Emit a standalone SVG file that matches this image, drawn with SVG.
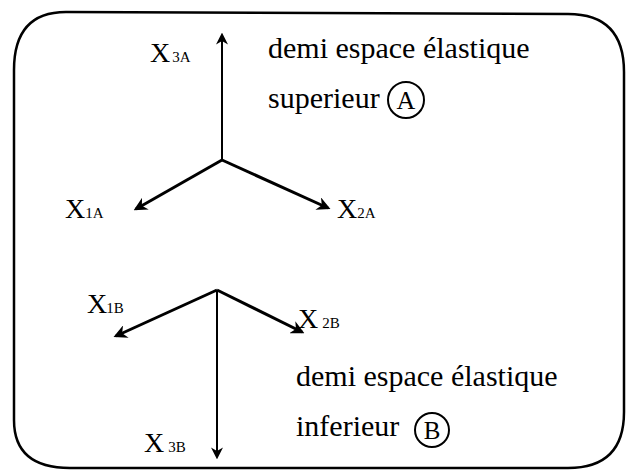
<svg xmlns="http://www.w3.org/2000/svg" width="628" height="472" viewBox="0 0 628 472">
<style>
.t{font-family:"Liberation Serif","Times New Roman",serif;fill:#000}
.big{font-size:30px}
.x{font-size:28px}
.s{font-size:15px}
.ax{stroke:#000;fill:none}
.c{fill:none;stroke:#000;stroke-width:2}
</style>
<defs>
<marker id="ah" viewBox="0 0 10 10" refX="8" refY="5" markerWidth="4.5" markerHeight="4.5" orient="auto" markerUnits="strokeWidth">
<path d="M0,0 L10,5 L0,10 L3,5 Z" fill="#000"/>
</marker>
<marker id="ah2" viewBox="0 0 10 10" refX="8" refY="5" markerWidth="6" markerHeight="6" orient="auto" markerUnits="strokeWidth">
<path d="M0,0 L10,5 L0,10 L3,5 Z" fill="#000"/>
</marker>
</defs>
<rect x="0" y="0" width="628" height="472" fill="#fff"/>
<g id="frame">
<path d="M14,420 L14,70 Q14,12 66,12 L568,14 Q624,14 624,72 L624,412 Q624,468 568,468 L70,468 Q14,468 14,420 Z" fill="none" stroke="#000" stroke-width="2.5"/>
</g>
<g id="connectors">
<line class="ax" x1="222" y1="160" x2="222" y2="35" stroke-width="2" marker-end="url(#ah2)"/>
<line class="ax" x1="222" y1="160" x2="136" y2="209" stroke-width="3" marker-end="url(#ah)"/>
<line class="ax" x1="222" y1="160" x2="328" y2="208" stroke-width="3" marker-end="url(#ah)"/>
<line class="ax" x1="217" y1="290" x2="217" y2="457" stroke-width="2" marker-end="url(#ah2)"/>
<line class="ax" x1="217" y1="290" x2="116" y2="336" stroke-width="3" marker-end="url(#ah)"/>
<line class="ax" x1="217" y1="290" x2="302" y2="332" stroke-width="3" marker-end="url(#ah)"/>
</g>
<g id="nodeA">
<text class="t x" x="150" y="62">X<tspan class="s" dx="2">3A</tspan></text>
<text class="t x" x="65" y="218">X<tspan class="s">1A</tspan></text>
<text class="t x" x="337" y="218">X<tspan class="s">2A</tspan></text>
<text class="t big" x="268" y="58">demi espace élastique</text>
<text class="t big" x="268" y="108">superieur</text>
<circle class="c" cx="406" cy="100" r="18"/>
<text class="t" x="406" y="109" font-size="26" text-anchor="middle">A</text>
</g>
<g id="nodeB">
<text class="t x" x="87" y="313">X<tspan class="s" dx="-1">1B</tspan></text>
<text class="t x" x="298" y="328">X<tspan class="s" dx="4">2B</tspan></text>
<text class="t x" x="144" y="452">X<tspan class="s" dx="4">3B</tspan></text>
<text class="t big" x="296" y="386">demi espace élastique</text>
<text class="t big" x="296" y="436">inferieur</text>
<circle class="c" cx="432" cy="430" r="17"/>
<text class="t" x="432" y="439" font-size="25" text-anchor="middle">B</text>
</g>
</svg>
